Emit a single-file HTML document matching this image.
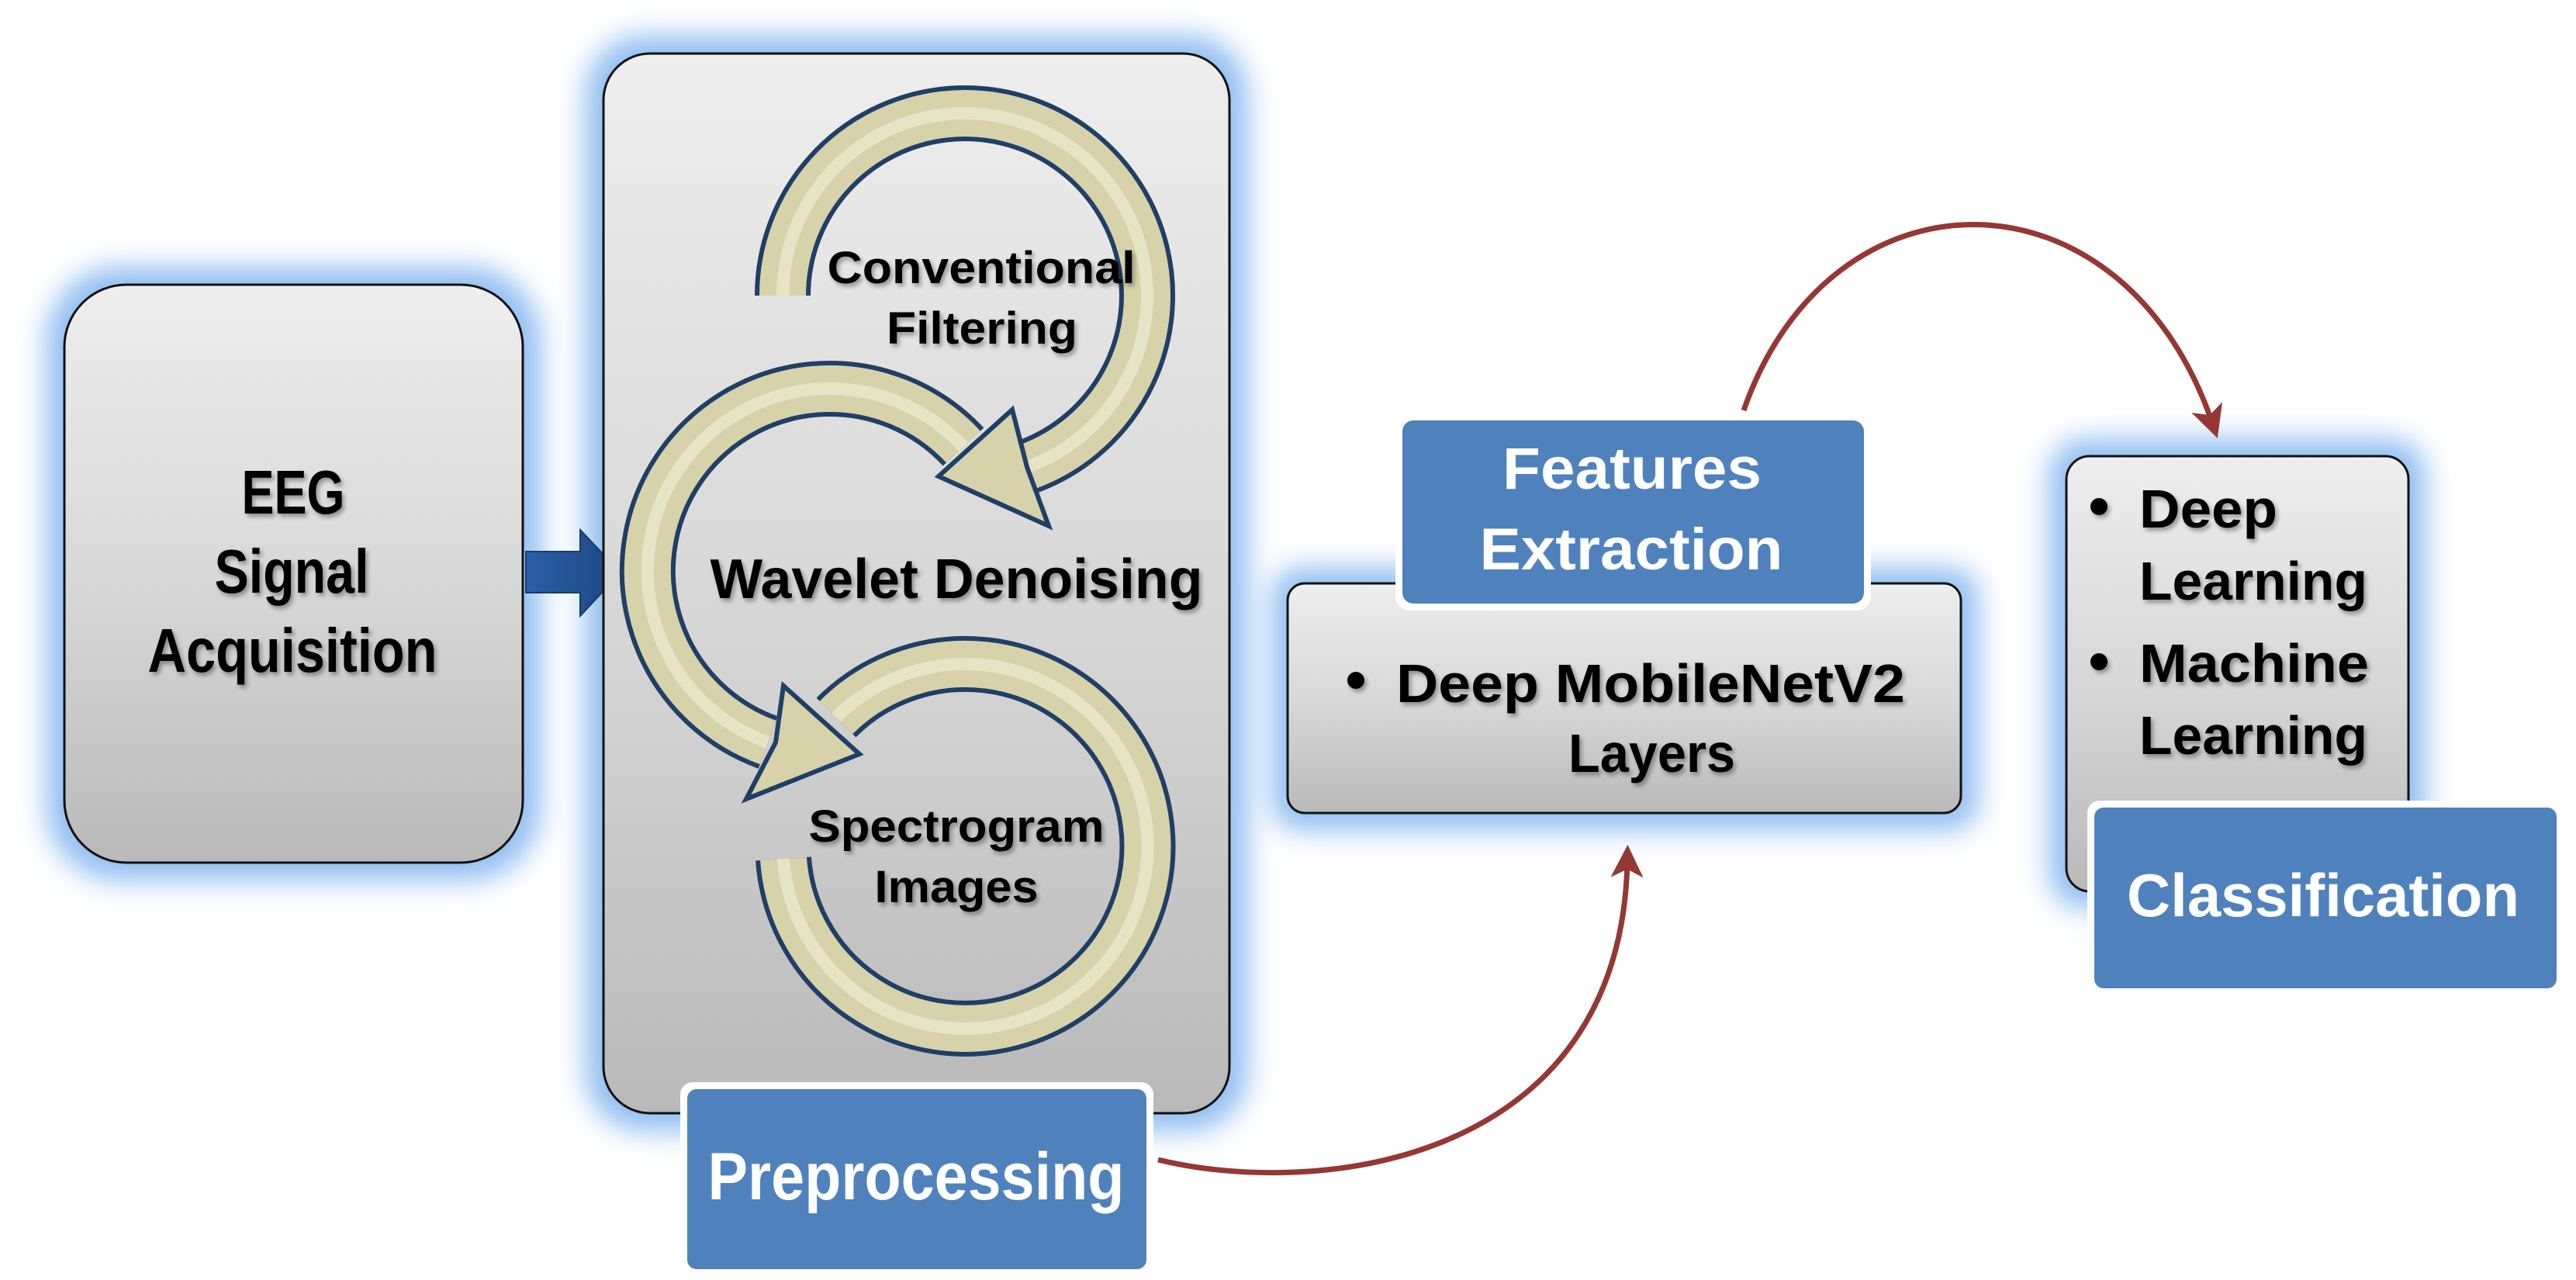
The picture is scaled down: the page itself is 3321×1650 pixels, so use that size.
<!DOCTYPE html>
<html><head><meta charset="utf-8"><style>
html,body{margin:0;padding:0;background:#fff;}
svg{display:block;}
text{font-family:"Liberation Sans",sans-serif;font-weight:bold;}
</style></head><body>
<svg width="3321" height="1650" viewBox="0 0 3321 1650" xmlns="http://www.w3.org/2000/svg">
<defs>
<linearGradient id="gray" x1="0" y1="0" x2="0" y2="1">
<stop offset="0" stop-color="#eeeeee"/><stop offset="0.55" stop-color="#d6d6d6"/><stop offset="1" stop-color="#b9b9b9"/>
</linearGradient>
<filter id="glow" x="-20%" y="-20%" width="140%" height="140%">
<feGaussianBlur stdDeviation="18"/>
</filter>
<filter id="tsh" x="-10%" y="-30%" width="120%" height="160%">
<feDropShadow dx="3" dy="4" stdDeviation="3" flood-color="#000" flood-opacity="0.35"/>
</filter>
<marker id="ah" markerWidth="6" markerHeight="6" refX="3" refY="3" orient="auto" markerUnits="strokeWidth">
<path d="M0,0 L6,3 L0,6 L1.5,3 Z" fill="#953735"/>
</marker>
</defs>

<!-- glows -->
<g fill="#8fbdf0" filter="url(#glow)">
<rect x="60" y="344" width="637" height="791" rx="95"/>
<rect x="755" y="46" width="853" height="1412" rx="75"/>
<rect x="1640" y="732" width="910" height="338" rx="35"/>
<rect x="2642" y="566" width="485" height="605" rx="45"/>
</g>

<!-- EEG box -->
<rect x="83" y="367" width="591" height="745" rx="80" fill="url(#gray)" stroke="#111" stroke-width="3"/>
<g fill="#000" font-size="80" text-anchor="middle" filter="url(#tsh)">
<text x="378" y="662" textLength="133" lengthAdjust="spacingAndGlyphs">EEG</text>
<text x="376" y="764" textLength="199" lengthAdjust="spacingAndGlyphs">Signal</text>
<text x="377" y="866" textLength="373" lengthAdjust="spacingAndGlyphs">Acquisition</text>
</g>

<!-- blue arrow -->
<defs><linearGradient id="ba" x1="0" y1="0" x2="1" y2="0"><stop offset="0" stop-color="#2a5fa8"/><stop offset="1" stop-color="#1d4680"/></linearGradient></defs>
<path d="M678,711 L748,711 L748,683 L800,738 L748,794 L748,764 L678,764 Z" fill="url(#ba)" stroke="#1b3b66" stroke-width="2"/>

<!-- Preprocessing container -->
<rect x="778" y="69" width="807" height="1366" rx="60" fill="url(#gray)" stroke="#111" stroke-width="3"/>

<g fill="none" stroke-linecap="butt">
<path d="M1078,925 A235,235 0 1 1 1010,1107" stroke="#1f3f66" stroke-width="72"/>
<path d="M1078,925 A235,235 0 1 1 1010,1107" stroke="#d8d2ab" stroke-width="60"/>
<path d="M1078,925 A235,235 0 1 1 1010,1107" stroke="#eeebd0" stroke-width="16" opacity="0.7"/>
<path d="M1242,576 A235,235 0 1 0 990,957" stroke="#1f3f66" stroke-width="72"/>
<path d="M1242,576 A235,235 0 1 0 990,957" stroke="#d8d2ab" stroke-width="60"/>
<path d="M1242,576 A235,235 0 1 0 990,957" stroke="#eeebd0" stroke-width="16" opacity="0.7"/>
</g>
<polygon points="1010,884 1000,957 962,1030 1108,972" fill="#d8d2ab" stroke="#1f3f66" stroke-width="6"/>
<g fill="none">
<path d="M1009,381 A235,235 0 1 1 1324,602" stroke="#1f3f66" stroke-width="72"/>
<path d="M1009,381 A235,235 0 1 1 1324,602" stroke="#d8d2ab" stroke-width="60"/>
<path d="M1009,381 A235,235 0 1 1 1324,602" stroke="#eeebd0" stroke-width="16" opacity="0.7"/>
</g>
<polygon points="1305,528 1324,602 1352,678 1210,614" fill="#d8d2ab" stroke="#1f3f66" stroke-width="6"/>

<g fill="#000" text-anchor="middle" filter="url(#tsh)">
<text x="1265" y="365" font-size="58" textLength="397" lengthAdjust="spacingAndGlyphs">Conventional</text>
<text x="1266" y="443" font-size="58" textLength="246" lengthAdjust="spacingAndGlyphs">Filtering</text>
<text x="1233" y="771" font-size="72" textLength="635" lengthAdjust="spacingAndGlyphs">Wavelet Denoising</text>
<text x="1233" y="1085" font-size="58" textLength="381" lengthAdjust="spacingAndGlyphs">Spectrogram</text>
<text x="1233" y="1163" font-size="58" textLength="211" lengthAdjust="spacingAndGlyphs">Images</text>
</g>

<!-- Preprocessing label -->
<rect x="877" y="1395" width="610" height="250" rx="16" fill="#fff"/>
<rect x="886" y="1404" width="592" height="232" rx="12" fill="#4f81bd"/>
<text x="1181" y="1546" font-size="86" fill="#fff" text-anchor="middle" textLength="537" lengthAdjust="spacingAndGlyphs">Preprocessing</text>

<!-- red curves -->
<path d="M1493,1495 C1700,1545 2090,1500 2098,1110" fill="none" stroke="#953735" stroke-width="7" marker-end="url(#ah)"/>
<path d="M2248,529 C2360,207 2736,207 2852,545" fill="none" stroke="#953735" stroke-width="7" marker-end="url(#ah)"/>

<!-- Features box -->
<rect x="1660" y="752" width="868" height="296" rx="22" fill="url(#gray)" stroke="#111" stroke-width="3"/>
<rect x="1799" y="533" width="613" height="254" rx="18" fill="#fff"/>
<rect x="1808" y="542" width="595" height="236" rx="14" fill="#4f81bd"/>
<g fill="#fff" text-anchor="middle" font-size="76">
<text x="2104" y="630" textLength="334" lengthAdjust="spacingAndGlyphs">Features</text>
<text x="2103" y="734" textLength="391" lengthAdjust="spacingAndGlyphs">Extraction</text>
</g>
<g filter="url(#tsh)">
<circle cx="1748" cy="877" r="11" fill="#000"/>
<g fill="#000" font-size="70">
<text x="1800" y="905" textLength="656" lengthAdjust="spacingAndGlyphs">Deep MobileNetV2</text>
<text x="2022" y="995" textLength="215" lengthAdjust="spacingAndGlyphs">Layers</text>
</g>
</g>

<!-- Classification box -->
<rect x="2664" y="588" width="441" height="561" rx="30" fill="url(#gray)" stroke="#111" stroke-width="3"/>
<g filter="url(#tsh)">
<circle cx="2706" cy="653" r="11" fill="#000"/>
<circle cx="2706" cy="853" r="11" fill="#000"/>
<g fill="#000" font-size="70">
<text x="2758" y="680" textLength="178" lengthAdjust="spacingAndGlyphs">Deep</text>
<text x="2758" y="773" textLength="294" lengthAdjust="spacingAndGlyphs">Learning</text>
<text x="2758" y="879" textLength="296" lengthAdjust="spacingAndGlyphs">Machine</text>
<text x="2758" y="972" textLength="294" lengthAdjust="spacingAndGlyphs">Learning</text>
</g>
</g>
<rect x="2691" y="1032" width="614" height="251" rx="16" fill="#fff"/>
<rect x="2700" y="1041" width="596" height="233" rx="12" fill="#4f81bd"/>
<text x="2995" y="1181" font-size="78" fill="#fff" text-anchor="middle" textLength="506" lengthAdjust="spacingAndGlyphs">Classification</text>
</svg>
</body></html>
